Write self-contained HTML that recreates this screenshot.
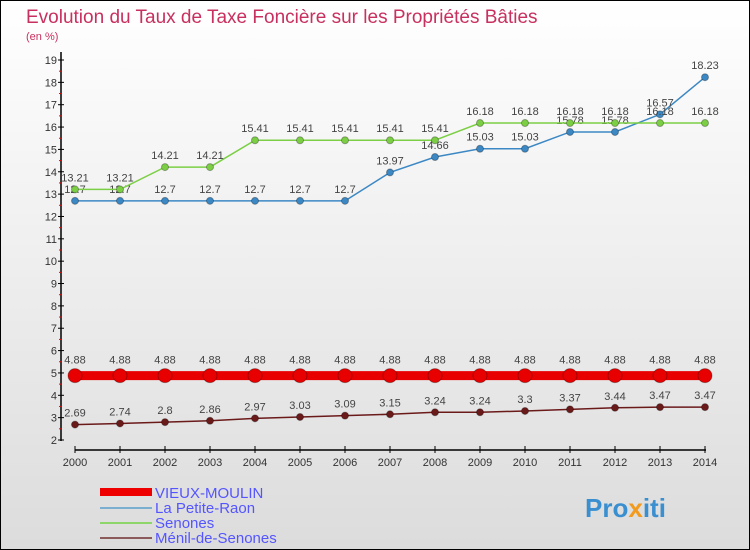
<!DOCTYPE html>
<html><head><meta charset="utf-8"><style>
body{margin:0}
#c{width:750px;height:550px;position:relative;box-sizing:border-box;border:1px solid #000;background:linear-gradient(#fff,#dcdcdc);font-family:"Liberation Sans",sans-serif;overflow:hidden}
</style></head><body>
<div id="c">
<svg id="s" width="750" height="550" style="position:absolute;left:-1px;top:-1px">
<text x="26" y="23" font-size="19" fill="#c8305f">Evolution du Taux de Taxe Foncière sur les Propriétés Bâties</text>
<text x="26" y="40" font-size="11" fill="#c8305f">(en %)</text>
<g id="ax"></g><g id="marks"></g>
<g>
<rect x="100" y="488" width="52" height="8" fill="#e00"/>
<text x="155" y="498" font-size="15" fill="#55f">VIEUX-MOULIN</text>
<line x1="100" y1="508" x2="152" y2="508" stroke="#7aafd0" stroke-width="2"/>
<text x="155" y="513" font-size="15" fill="#55f">La Petite-Raon</text>
<line x1="100" y1="523" x2="152" y2="523" stroke="#8ed66a" stroke-width="2"/>
<text x="155" y="528" font-size="15" fill="#55f">Senones</text>
<line x1="100" y1="538" x2="152" y2="538" stroke="#8b5a5a" stroke-width="2"/>
<text x="155" y="543" font-size="15" fill="#55f">Ménil-de-Senones</text>
</g>
<text x="585" y="517" font-size="26" font-weight="bold" fill="#3a8fd0">Pro<tspan fill="#f29a1d">x</tspan>iti</text>
</svg></div>
<script>
const years=[2000,2001,2002,2003,2004,2005,2006,2007,2008,2009,2010,2011,2012,2013,2014];
const vieux=[4.88,4.88,4.88,4.88,4.88,4.88,4.88,4.88,4.88,4.88,4.88,4.88,4.88,4.88,4.88];
const petite=[12.7,12.7,12.7,12.7,12.7,12.7,12.7,13.97,14.66,15.03,15.03,15.78,15.78,16.57,18.23];
const senones=[13.21,13.21,14.21,14.21,15.41,15.41,15.41,15.41,15.41,16.18,16.18,16.18,16.18,16.18,16.18];
const menil=[2.69,2.74,2.8,2.86,2.97,3.03,3.09,3.15,3.24,3.24,3.3,3.37,3.44,3.47,3.47];
const yTicks=[2,3,4,5,6,7,8,9,10,11,12,13,14,15,16,17,18,19];
const NS="http://www.w3.org/2000/svg";
const X=i=>75+i*45, Y=v=>440-(v-2)*(380/17);
function mk(t,a,p){const e=document.createElementNS(NS,t);for(const k in a)e.setAttribute(k,a[k]);p.appendChild(e);return e;}
const ax=document.getElementById('ax'), mg=document.getElementById('marks');
mk('line',{x1:61,y1:52,x2:61,y2:441,stroke:'#000','stroke-width':1.5},ax);
mk('line',{x1:75,y1:450,x2:706,y2:450,stroke:'#000','stroke-width':1.5},ax);
yTicks.forEach(v=>{
 mk('line',{x1:58,y1:Y(v),x2:64,y2:Y(v),stroke:'#000'},ax);
 if(v<19) mk('line',{x1:59,y1:Y(v+0.5),x2:62,y2:Y(v+0.5),stroke:'#e00'},ax);
 const t=mk('text',{x:57,y:Y(v)+4,'font-size':11,'text-anchor':'end',fill:'#333'},ax);t.textContent=v;
 
 
});
years.forEach((y,i)=>{
 mk('line',{x1:X(i),y1:446,x2:X(i),y2:453,stroke:'#000'},ax);
 const t=mk('text',{x:X(i),y:466,'font-size':11,'text-anchor':'middle',fill:'#333'},ax);t.textContent=y;
 
 
});
function series(d,col,w,r,name,dy){
 const g=mk('g',{},mg);
 
 
 mk('polyline',{points:d.map((v,i)=>X(i)+','+Y(v)).join(' '),fill:'none',stroke:col,'stroke-width':w},g);
 d.forEach((v,i)=>{
  const c=mk('circle',{cx:X(i),cy:Y(v),r:r,fill:col,stroke:'rgba(0,0,0,0.3)','stroke-width':1},g);
  
  
  const t=mk('text',{x:X(i),y:Y(v)+dy,'font-size':11,'text-anchor':'middle',fill:'#444'},g);
  t.textContent=String(v).replace(/^(\d+)\.(\d)0$/,'$1.$2');
  
  
 });
}
series(petite,'#3c88c4',1.5,3.5,'la-petite-raon',-8);
series(senones,'#7ccf45',1.5,3.5,'senones',-8);
series(menil,'#6b1a1a',1.5,3.5,'menil-de-senones',-8);
series(vieux,'#e80000',9,7,'vieux-moulin',-12);
</script>
</body></html>
